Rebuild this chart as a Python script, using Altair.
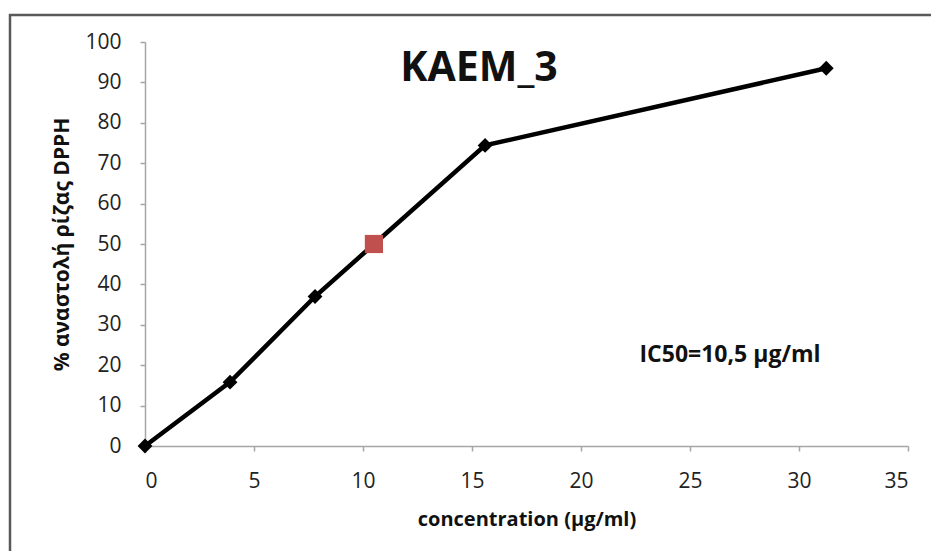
import altair as alt
import pandas as pd

conc = [0, 3.9, 7.8, 15.6, 31.25]
inhib = [0, 15.8, 37.0, 74.4, 93.5]
ic50_x = [10.5]
ic50_y = [50]
title_text = "KAEM_3"
ic50_label = "IC50=10,5 μg/ml"
x_ticks = [0, 5, 10, 15, 20, 25, 30, 35]
y_ticks = [0, 10, 20, 30, 40, 50, 60, 70, 80, 90, 100]

FONT = "Open Sans"

df = pd.DataFrame({"c": conc, "v": inhib})
dfi = pd.DataFrame({"c": ic50_x, "v": ic50_y})

xs = alt.Scale(domain=[0, 35], nice=False, zero=True)
ys = alt.Scale(domain=[0, 100], nice=False)

xax = alt.Axis(values=x_ticks, title="concentration (μg/ml)", grid=False,
               domainColor="#A6A6A6", tickColor="#A6A6A6", tickSize=5, domainWidth=1.5,
               tickWidth=1.5,
               labelFont=FONT, labelFontSize=21, labelColor="#222",
               labelPadding=19, titleFont=FONT, titleFontSize=20, titleFontWeight="bold",
               titleColor="#111", titlePadding=18)
yax = alt.Axis(values=y_ticks, title="% αναστολή ρίζας DPPH", grid=False,
               domainColor="#A6A6A6", tickColor="#A6A6A6", tickSize=5, domainWidth=1.5,
               tickWidth=1.5,
               labelFont=FONT, labelFontSize=21, labelColor="#222",
               labelPadding=19, titleFont=FONT, titleFontSize=21, titleFontWeight="bold",
               titleColor="#111", titlePadding=12)

base = alt.Chart(df)

line = base.mark_line(color="black", strokeWidth=4.5).encode(
    x=alt.X("c:Q", scale=xs, axis=xax),
    y=alt.Y("v:Q", scale=ys, axis=yax),
)
pts = base.mark_point(shape="diamond", filled=True, color="black", size=220, opacity=1).encode(
    x=alt.X("c:Q", scale=xs), y=alt.Y("v:Q", scale=ys)
)
sq = alt.Chart(dfi).mark_point(shape="square", filled=True, color="#C0504D", size=330, opacity=1).encode(
    x=alt.X("c:Q", scale=xs), y=alt.Y("v:Q", scale=ys)
)

title = alt.Chart(pd.DataFrame({"t": [title_text]})).mark_text(
    font=FONT, fontSize=41, fontWeight="bold", color="#111", align="center", baseline="middle"
).encode(x=alt.value(334), y=alt.value(27), text="t:N")

ic = alt.Chart(pd.DataFrame({"t": [ic50_label]})).mark_text(
    font=FONT, fontSize=23, fontWeight="bold", color="#111", align="center", baseline="middle"
).encode(x=alt.value(585), y=alt.value(313), text="t:N")

border = alt.Chart(pd.DataFrame({"a": [0]})).mark_rect(
    filled=False, stroke="#595959", strokeWidth=2.5, clip=False
).encode(x=alt.value(-135), x2=alt.value(900), y=alt.value(-27), y2=alt.value(700))

chart = alt.layer(border, line, pts, sq, title, ic).properties(
    width=763, height=404,
    padding={"left": 137, "top": 34, "right": 23, "bottom": 105},
    autosize=alt.AutoSizeParams(type="none"),
    background="white",
).configure_view(stroke=None)

chart.save("out.html", embed_options={"renderer": "svg", "actions": False})
